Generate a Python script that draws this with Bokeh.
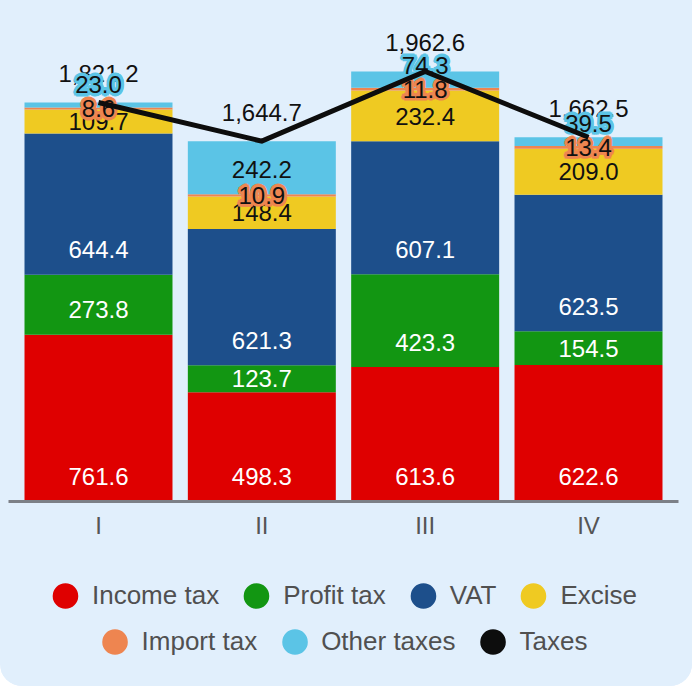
import math
from bokeh.plotting import figure
from bokeh.layouts import column
from bokeh.models import (ColumnDataSource, FactorRange, Range1d, Legend, LegendItem)
from bokeh.core.properties import value
from bokeh.embed import file_html
from bokeh.resources import INLINE

# ---------------- data ----------------
quarters = ["I", "II", "III", "IV"]
income_tax = [761.6, 498.3, 613.6, 622.6]
profit_tax = [273.8, 123.7, 423.3, 154.5]
vat = [644.4, 621.3, 607.1, 623.5]
excise = [109.7, 148.4, 232.4, 209.0]
import_tax = [8.6, 10.9, 11.8, 13.4]
other_taxes = [23.0, 242.2, 74.3, 39.5]
taxes_total = [1821.2, 1644.7, 1962.6, 1662.5]

series_names = ["Income tax", "Profit tax", "VAT", "Excise", "Import tax", "Other taxes"]
series_values = [income_tax, profit_tax, vat, excise, import_tax, other_taxes]

# ---------------- styles ----------------
COLORS = ["#df0000", "#129612", "#1d4f8b", "#efca22", "#ee8550", "#5bc4e6"]
LABEL_COLORS = ["white", "white", "white", "#111111", "#111111", "#111111"]
HALO = [None, None, None, None, "#ee8550", "#5bc4e6"]
LINE_COLOR = "#0d0d0d"
BG = "#e1effc"
FONT = "Liberation Sans"

W = 692
CHART_H = 561
LEG_H = 125
TOP_B = 19
BOT_B = 60
Y_MAX = 2200
FRAME_H = CHART_H - TOP_B - BOT_B
PX_PER_UNIT = FRAME_H / Y_MAX

p = figure(
    x_range=FactorRange(*quarters, range_padding=0.051, range_padding_units="absolute"),
    y_range=Range1d(0, Y_MAX),
    width=W, height=CHART_H,
    output_backend="svg", toolbar_location=None,
    y_axis_location=None,
    min_border_left=8, min_border_right=14, min_border_top=TOP_B, min_border_bottom=BOT_B,
)
p.background_fill_color = BG
p.border_fill_color = BG
p.outline_line_color = None
p.xgrid.grid_line_color = None
p.ygrid.grid_line_color = None

xa = p.xaxis[0]
xa.axis_line_color = "#7c8087"
xa.axis_line_width = 3
xa.major_tick_line_color = None
xa.minor_tick_line_color = None
xa.major_tick_out = 0
xa.major_label_standoff = 10
xa.major_label_text_font = FONT
xa.major_label_text_font_size = "24px"
xa.major_label_text_color = "#555555"

# ---------------- stacked bars ----------------
bottom = [0.0] * len(quarters)
bottoms, centers = [], []
for name, vals, col in zip(series_names, series_values, COLORS):
    top = [b + v for b, v in zip(bottom, vals)]
    src = ColumnDataSource(dict(x=quarters, bottom=bottom, top=top))
    p.vbar(x="x", bottom="bottom", top="top", width=0.906, source=src,
           fill_color=col, line_color=None)
    bottoms.append(list(bottom))
    centers.append([(b + t) / 2 for b, t in zip(bottom, top)])
    bottom = top

# ---------------- total labels ----------------
tot_src = ColumnDataSource(dict(x=quarters, y=taxes_total,
                                t=[f"{v:,.1f}" for v in taxes_total]))
p.text(x="x", y="y", text="t", source=tot_src, y_offset=-29,
       text_align="center", text_baseline="middle",
       text_font=value(FONT), text_font_size="24px", text_color="#111111")

# ---------------- segment labels ----------------
HALO_R = 2.6
halo_dirs = [(math.cos(a * math.pi / 4) * HALO_R, math.sin(a * math.pi / 4) * HALO_R)
             for a in range(8)]

for i, (vals, lc, halo) in enumerate(zip(series_values, LABEL_COLORS, HALO)):
    ys, offs = [], []
    for j, v in enumerate(vals):
        h_px = v * PX_PER_UNIT
        if i == 5 and v < 100:
            # small "other" segment: lift label above the import-tax label
            ys.append(centers[4][j])
            offs.append(-24)
        else:
            # label sits 25px above the segment bottom, or centred if too thin
            ys.append(bottoms[i][j])
            offs.append(-min(25.0, h_px / 2))
    texts = [f"{v:,.1f}" for v in vals]
    if halo:
        for dx, dy in halo_dirs:
            hsrc = ColumnDataSource(dict(x=quarters, y=ys, off=[o + dy for o in offs], t=texts))
            p.text(x="x", y="y", text="t", source=hsrc, x_offset=dx, y_offset="off",
                   text_align="center", text_baseline="middle",
                   text_font=value(FONT), text_font_size="24px",
                   text_color=halo, text_outline_color=halo)
    src = ColumnDataSource(dict(x=quarters, y=ys, off=offs, t=texts))
    p.text(x="x", y="y", text="t", source=src, y_offset="off",
           text_align="center", text_baseline="middle",
           text_font=value(FONT), text_font_size="24px", text_color=lc)

# ---------------- taxes line ----------------
line_src = ColumnDataSource(dict(x=quarters, y=taxes_total))
p.line(x="x", y="y", source=line_src, line_color=LINE_COLOR, line_width=5,
       line_join="miter")

# ---------------- legend (separate strip) ----------------
lf = figure(width=W, height=LEG_H, output_backend="svg", toolbar_location=None,
            x_range=Range1d(0, 1), y_range=Range1d(0, 1),
            x_axis_location=None, y_axis_location=None,
            min_border_left=0, min_border_right=0, min_border_top=0, min_border_bottom=0)
lf.background_fill_color = BG
lf.border_fill_color = BG
lf.outline_line_color = None
lf.xgrid.grid_line_color = None
lf.ygrid.grid_line_color = None

legend_names = series_names + ["Taxes"]
legend_colors = COLORS + [LINE_COLOR]
proxies = []
for col in legend_colors:
    r = lf.ellipse(x=[float("nan")], y=[float("nan")], width=26, height=26,
                   width_units="screen", height_units="screen",
                   fill_color=col, line_color=None)
    proxies.append(r)

def make_legend(names, rends, loc, margin):
    return Legend(items=[LegendItem(label=n, renderers=[r]) for n, r in zip(names, rends)],
                  orientation="horizontal", location=loc,
                  glyph_width=32, glyph_height=33, label_height=33,
                  label_standoff=11, spacing=21, padding=0, margin=margin,
                  border_line_color=None, background_fill_alpha=0,
                  label_text_font=FONT, label_text_font_size="26px",
                  label_text_color="#505050")

lf.add_layout(make_legend(legend_names[:4], proxies[:4], "top_center", 18), "center")
lf.add_layout(make_legend(legend_names[4:], proxies[4:], "bottom_center", 28), "center")

layout = column(p, lf, spacing=0)
layout.styles = {"border-bottom-left-radius": "22px", "border-bottom-right-radius": "22px",
                 "overflow": "hidden", "background-color": BG}

open("out.html", "w").write(file_html(layout, INLINE))
